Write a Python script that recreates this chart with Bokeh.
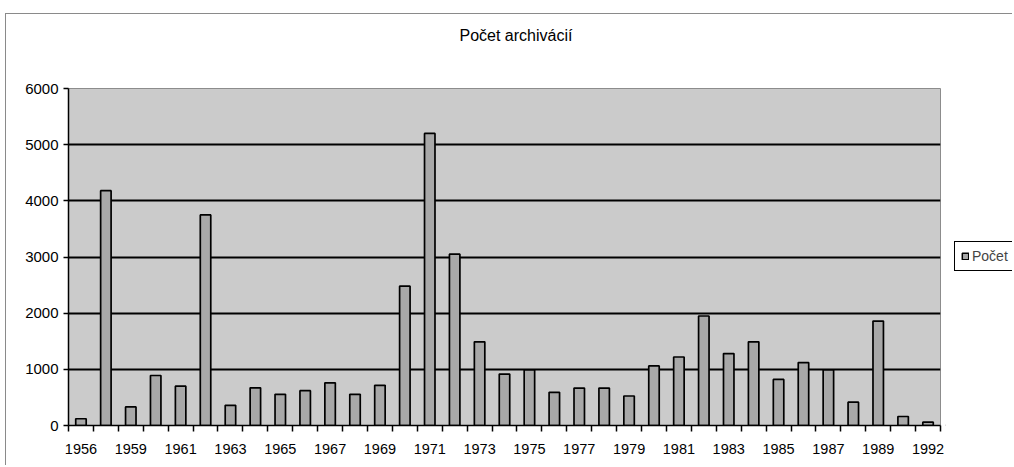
from bokeh.plotting import figure
from bokeh.models import FixedTicker, Legend, LegendItem, Range1d, Title
from bokeh.layouts import row
from bokeh.embed import file_html
from bokeh.resources import INLINE

# Data
years = ["1956", "1957", "1959", "1960", "1961", "1962", "1963", "1964", "1965",
         "1966", "1967", "1968", "1969", "1970", "1971", "1972", "1973", "1974",
         "1975", "1976", "1977", "1978", "1979", "1980", "1981", "1982", "1983",
         "1984", "1985", "1986", "1987", "1988", "1989", "1990", "1992"]
values = [120, 4180, 330, 890, 700, 3750, 360, 670, 555, 620, 760, 555, 715,
          2480, 5200, 3050, 1490, 915, 990, 590, 667, 667, 525, 1060, 1220,
          1950, 1280, 1490, 820, 1120, 990, 415, 1860, 160, 60]
y_ticks = [0, 1000, 2000, 3000, 4000, 5000, 6000]
title_text = "Počet archivácií"
series_name = "Počet"

FONT = "Liberation Sans"
BAR_FILL = "#a8a8a8"
BORDER = "1px solid #8a8a8a"

idx = list(range(len(years)))

p = figure(width=940, height=452,
           x_range=Range1d(-0.5, len(years) - 0.5),
           y_range=Range1d(y_ticks[0], y_ticks[-1]),
           output_backend="svg", toolbar_location=None,
           min_border_left=62, min_border_right=6,
           min_border_top=74, min_border_bottom=41)
p.margin = (13, 0, 0, 5)
p.styles = {"border-top": BORDER, "border-left": BORDER}

p.background_fill_color = "#cbcbcb"
p.border_fill_color = "white"
p.outline_line_color = "#8c8c8c"
p.outline_line_width = 1

r = p.vbar(x=idx, top=values, width=0.42, bottom=0,
           fill_color=BAR_FILL, line_color="black", line_width=1.7)

# grid
p.xgrid.visible = False
p.ygrid.ticker = FixedTicker(ticks=y_ticks[1:-1])
p.ygrid.grid_line_color = "black"
p.ygrid.grid_line_width = 2

# y axis
ya = p.yaxis[0]
ya.ticker = FixedTicker(ticks=y_ticks)
ya.axis_line_color = "black"
ya.axis_line_width = 1.5
ya.major_tick_out = 5
ya.major_tick_in = 0
ya.major_tick_line_color = "black"
ya.major_tick_line_width = 1.5
ya.minor_tick_line_color = None
ya.major_label_text_font = FONT
ya.major_label_text_font_size = "15px"
ya.major_label_text_color = "black"
ya.major_label_standoff = 5

# x axis
xa = p.xaxis[0]
xa.ticker = FixedTicker(ticks=idx[::2], minor_ticks=[i - 0.5 for i in range(len(years) + 1)])
xa.major_label_overrides = {i: years[i] for i in idx[::2]}
xa.axis_line_color = "black"
xa.axis_line_width = 1.5
xa.major_tick_out = 0
xa.major_tick_in = 0
xa.minor_tick_out = 6
xa.minor_tick_in = 0
xa.minor_tick_line_color = "black"
xa.minor_tick_line_width = 1.5
xa.major_label_text_font = FONT
xa.major_label_text_font_size = "14.5px"
xa.major_label_text_color = "black"
xa.major_label_standoff = 12

# title (outermost) + spacer between it and the frame
p.title.text = title_text
p.title.align = "left"
p.title.offset = 391
p.title.text_font = FONT
p.title.text_font_size = "16px"
p.title.text_font_style = "normal"
p.title.text_color = "black"
p.title.standoff = 0
p.add_layout(Title(text=" ", text_font_size="16px", standoff=26), "above")

# legend panel
p2 = figure(width=67, height=452, x_range=Range1d(0, 1), y_range=Range1d(0, 1),
            output_backend="svg", toolbar_location=None,
            x_axis_location=None, y_axis_location=None, min_border=0)
p2.margin = (13, 0, 0, 0)
p2.styles = {"border-top": BORDER}
p2.grid.visible = False
p2.outline_line_color = None
p2.background_fill_color = "white"
p2.border_fill_color = "white"
# legend proxy (kept outside the visible range of this small panel)
r2 = p2.vbar(x=[-1], top=[0], width=0.42, bottom=0,
             fill_color=BAR_FILL, line_color="black", line_width=1.5)
legend = Legend(items=[LegendItem(label=series_name, renderers=[r2])],
                location=(9, 154), border_line_color="black", border_line_width=1.5,
                border_line_alpha=1.0, background_fill_color="white",
                background_fill_alpha=1.0, padding=6, margin=0, spacing=0,
                glyph_width=8, glyph_height=8, label_standoff=3,
                label_text_font=FONT, label_text_font_size="14px", label_height=14)
p2.add_layout(legend)

layout = row(p, p2)
open("out.html", "w").write(file_html(layout, INLINE))
